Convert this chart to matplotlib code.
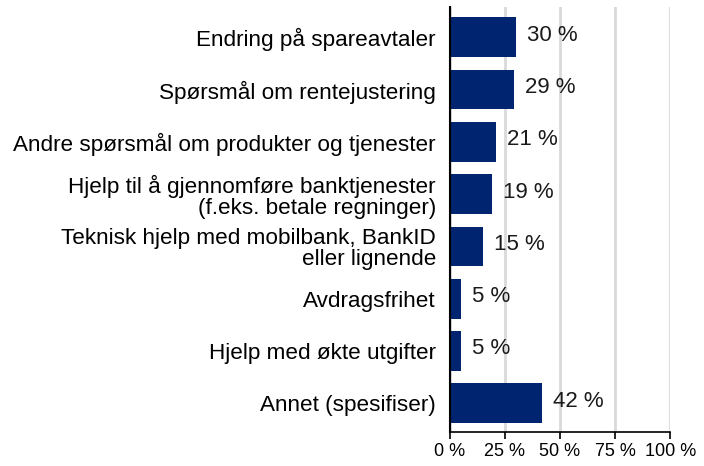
import matplotlib.pyplot as plt
import numpy as np

plt.rcParams['font.family'] = ['Liberation Sans', 'DejaVu Sans']

categories = [
    "Endring på spareavtaler",
    "Spørsmål om rentejustering",
    "Andre spørsmål om produkter og tjenester",
    "Hjelp til å gjennomføre banktjenester\n(f.eks. betale regninger)",
    "Teknisk hjelp med mobilbank, BankID\neller lignende",
    "Avdragsfrihet",
    "Hjelp med økte utgifter",
    "Annet (spesifiser)",
]
values = [30, 29, 21, 19, 15, 5, 5, 42]
xticks = [0, 25, 50, 75, 100]
xticklabels = ["0 %", "25 %", "50 %", "75 %", "100 %"]

fig = plt.figure(figsize=(7.04, 4.66), dpi=100)
ax = fig.add_axes([0.639, 0.073, 0.313, 0.912])

y = np.arange(len(categories))
ax.barh(y, values, height=0.76, color="#002470", zorder=3)
for yi, v in zip(y, values):
    ax.text(v + 5, yi - 0.04, f"{v} %", va="center", ha="left", fontsize=16, color="#1a1a1a")

ax.set_yticks(y)
ax.set_yticklabels(categories, fontsize=16.2, linespacing=1.0)
ax.set_ylim(len(categories) - 0.5 + 0.05, -0.5 - 0.08)
ax.set_xlim(0, 100)
ax.set_xticks(xticks)
ax.set_xticklabels(xticklabels, fontsize=13)
ax.tick_params(axis="y", length=0, pad=10)
ax.tick_params(axis="x", length=5, width=1.2, pad=3)
ax.xaxis.grid(True, color="#d9d9d9", linewidth=2, zorder=0)
for s in ["top", "right"]:
    ax.spines[s].set_visible(False)
ax.spines["left"].set_linewidth(1.5)
ax.spines["bottom"].set_linewidth(1.2)
ax.spines["left"].set_zorder(4)

fig.savefig("out.png", dpi=100)
